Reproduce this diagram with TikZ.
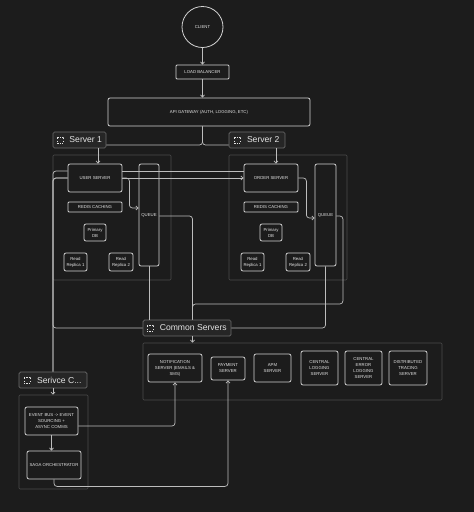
\documentclass[tikz,border=0pt]{standalone}
\usepackage{fontspec}
\setmainfont{Liberation Sans}
\usetikzlibrary{positioning,arrows.meta}
\definecolor{bgcol}{HTML}{1C1C1C}
\definecolor{edgecol}{HTML}{D2D2D2}
\definecolor{grpcol}{HTML}{4C4C4C}
\definecolor{tagcol}{HTML}{262626}
\definecolor{tagedge}{HTML}{6C6C6C}
\definecolor{txtcol}{HTML}{E4E4E4}
\begin{document}
\begin{tikzpicture}[x=1pt,y=-1pt,
  box/.style={draw=edgecol, line width=0.8pt, rounded corners=2pt, text=txtcol, align=center, inner sep=0pt, font=\fontsize{4.3}{6}\selectfont},
  grp/.style={draw=grpcol, line width=0.6pt, rounded corners=1pt, inner sep=0pt},
  tag/.style={draw=tagedge, fill=tagcol, line width=0.7pt, rounded corners=1.5pt, text=txtcol, font=\fontsize{8.6}{10}\selectfont, inner sep=0pt, minimum height=16pt},
  icon/.style={draw=txtcol, dash pattern=on 1.2pt off 1.2pt, line width=0.6pt, minimum size=6pt, inner sep=0pt},
  conn/.style={draw=edgecol!90!black, line width=0.7pt, rounded corners=3pt},
  >={Straight Barb[length=2.2pt,width=4pt]}]
\fill[bgcol] (0,0) rectangle (474,512);
\node[box, circle, minimum size=41pt] (cli) at (202.5,27){CLIENT};
\node[box, rounded corners=1pt, minimum width=53pt, minimum height=14pt] (lb) at (202.5,72){LOAD BALANCER};
\node[box, minimum width=202pt, minimum height=28pt] (gw) at (209,112){API GATEWAY (AUTH, LOGGING, ETC)};
\node[grp, minimum width=118pt, minimum height=125pt] (s1grp) at (112,217.5){};
\node[grp, minimum width=118pt, minimum height=125pt] (s2grp) at (288,217.5){};
\node[grp, minimum width=299pt, minimum height=57pt] (comgrp) at (292.5,371.5){};
\node[grp, minimum width=69pt, minimum height=94pt] (svcgrp) at (53.5,442){};
\node[tag, minimum width=53pt] (s1tag) at (79.5,140){\hspace*{12.5pt}Server 1};
\node[icon, right=4.5pt of s1tag.west] (s1icon){};
\node[tag, minimum width=56pt] (s2tag) at (257,140){\hspace*{12.5pt}Server 2};
\node[icon, right=5.5pt of s2tag.west] (s2icon){};
\node[tag, minimum width=88pt] (comtag) at (187,328){\hspace*{12.5pt}Common Servers};
\node[icon, right=4pt of comtag.west] (comicon){};
\node[tag, minimum width=68pt] (svctag) at (53,380){\hspace*{12.5pt}Serivce C...};
\node[icon, right=5pt of svctag.west] (svcicon){};
\node[box, minimum width=54pt, minimum height=28pt] (usr) at (95,178){USER SERVER};
\node[box, rounded corners=1pt, minimum width=54pt, minimum height=10pt] (rds1) at (95,207){REDIS CACHING};
\node[box, minimum width=22pt, minimum height=17pt] (pdb1) at (95,232.5){Primary\\DB};
\node[box, minimum width=23pt, minimum height=18pt] (rr11) at (75.5,262){Read\\Replica 1};
\node[box, minimum width=24pt, minimum height=18pt] (rr12) at (121,262){Read\\Replica 2};
\node[box, minimum width=20pt, minimum height=102pt] (q1) at (149,215){QUEUE};
\node[box, minimum width=54pt, minimum height=28pt] (osr) at (271,178){ORDER SERVER};
\node[box, rounded corners=1pt, minimum width=54pt, minimum height=10pt] (rds2) at (271,207){REDIS CACHING};
\node[box, minimum width=22pt, minimum height=17pt] (pdb2) at (271,232.5){Primary\\DB};
\node[box, minimum width=23pt, minimum height=18pt] (rr21) at (252.5,262){Read\\Replica 1};
\node[box, minimum width=24pt, minimum height=18pt] (rr22) at (298,262){Read\\Replica 2};
\node[box, minimum width=21pt, minimum height=102pt] (q2) at (325.5,215){QUEUE};
\node[box, minimum width=54pt, minimum height=28pt] (ntf) at (175,368){NOTIFICATION\\SERVER (EMAILS \&\\SMS)};
\node[box, minimum width=34pt, minimum height=23pt] (pay) at (228,368.5){PAYMENT\\SERVER};
\node[box, minimum width=37pt, minimum height=28pt] (apm) at (272.5,368){APM\\SERVER};
\node[box, minimum width=37pt, minimum height=34pt] (clog) at (319.5,368){CENTRAL\\LOGGING\\SERVER};
\node[box, minimum width=37pt, minimum height=34pt] (celog) at (363.5,368){CENTRAL\\ERROR\\LOGGING\\SERVER};
\node[box, minimum width=38pt, minimum height=34pt] (dtr) at (408,368){DISTRIBUTED\\TRACING\\SERVER};
\node[box, minimum width=53pt, minimum height=28pt] (evb) at (51.5,421){EVENT BUS -> EVENT\\SOURCING +\\ASYNC COMMS};
\node[box, minimum width=54pt, minimum height=28pt] (saga) at (54,465){SAGA ORCHESTRATOR};
\coordinate (gwsplit) at (202.5,145);
\coordinate (usrin) at ([xshift=3pt]usr.north);
\coordinate (osrin) at ([xshift=5pt]osr.north);
\coordinate (qjoin) at (192.5,304);
\draw[conn,->](cli) -- (lb);
\draw[conn,->](lb) -- (lb.south |- gw.north);
\draw[conn](lb.south |- gw.south) |- (gwsplit -| s1tag.east);
\draw[conn](lb.south |- gw.south) |- (gwsplit -| s2tag.west);
\draw[conn,->](usrin |- s1tag.south) -- (usrin);
\draw[conn,->](osrin |- s2tag.south) -- (osrin);
\draw[conn,->](usr.east) -- (osr.west);
\draw[conn]([yshift=7pt]usr.east) -- ([yshift=7pt]osr.west);
\draw[conn,->](usr.east) -- ++(7,0) |- ([yshift=7pt]q1.west);
\draw[conn,->](osr.east) -- ++(8,0) |- ([yshift=-3pt]q2.west);
\draw[conn]([yshift=-1pt]q1.east) -| (qjoin |- comtag.north);
\draw[conn]([yshift=-1pt]q2.east) -- ++(6.5,0) |- (qjoin) -- (qjoin |- comtag.north);
\draw[conn](q1.south) -- (q1.south |- comtag.north);
\draw[conn](q2.south) |- (comtag.east);
\draw[conn,->](qjoin |- comtag.south) -- (qjoin |- comgrp.north);
\draw[conn](usr.west) -| (svctag.north);
\draw[conn](svctag.north) |- ([yshift=7pt]usr.west);
\draw[conn](usr.west) -| (svctag.north |- comtag.west) -- (comtag.west);
\draw[conn,->](svctag.south) -- (svctag.south |- svcgrp.north);
\draw[conn,->](evb.south) -- (evb.south |- saga.north);
\draw[conn,->]([yshift=-5pt]evb.east) -| (ntf.south);
\draw[conn,->](saga.south) -- ++(0,7) -| (pay.south);
\end{tikzpicture}
\end{document}
